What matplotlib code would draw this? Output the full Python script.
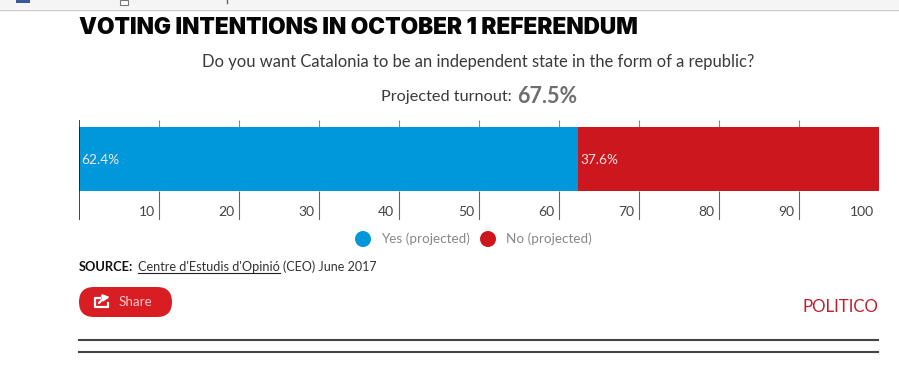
import matplotlib
matplotlib.use('Agg')
import matplotlib.pyplot as plt
from matplotlib.patches import FancyBboxPatch, Rectangle, Circle

labels = ['Yes (projected)', 'No (projected)']
values = [62.4, 37.6]
colors = ['#0098DB', '#CD171E']
ticks = [10, 20, 30, 40, 50, 60, 70, 80, 90, 100]

W, H = 899, 369
plt.rcParams['font.family'] = ['Lato', 'DejaVu Sans']

fig = plt.figure(figsize=(W / 100, H / 100), dpi=100, facecolor='white')

# full figure overlay in pixel coordinates, for the page furniture
page = fig.add_axes([0, 0, 1, 1])
page.set_xlim(0, W)
page.set_ylim(H, 0)
page.axis('off')

# chart axes: x 79-878.5 px, y 120-220 px
ax = fig.add_axes([79 / W, 1 - 220 / H, 799.5 / W, 100 / H])
ax.patch.set_alpha(0)
for s in ax.spines.values():
    s.set_visible(False)
ax.set_xticks([])
ax.set_yticks([])

left = 0
for v, c in zip(values, colors):
    ax.barh(159, v, height=64, left=left, color=c, linewidth=0, zorder=2)
    ax.text(left + 0.3, 159.5, '%.1f%%' % v, color='#F3E3E3', fontsize=9.8, va='center', ha='left', zorder=4)
    left += v
ax.set_xlim(0, 100)
ax.set_ylim(220, 120)

ax.vlines([0], 120, 220, color='#111111', linewidth=1.1, zorder=3)
ax.vlines(ticks[:-1], 120, 127, color='#888888', linewidth=0.8, zorder=1)
ax.vlines(ticks[:-1], 191, 220, color='#666666', linewidth=0.8, zorder=1)
for t in ticks:
    ax.text(t - 0.55, 212, str(t), color='#444444', fontsize=10, ha='right', va='center')

# top browser strip
page.add_patch(Rectangle((0, 0), W, 9, color='#F5F5F5', linewidth=0))
page.plot([0, W], [9.5, 9.5], color='#CCCCCC', linewidth=1)
page.add_patch(Rectangle((16, 0), 14, 3, color='#3B5998', linewidth=0))
page.add_patch(Rectangle((120, 0), 8, 5, facecolor='white', edgecolor='#777777', linewidth=0.8))
page.plot([227, 227], [0, 3], color='#666666', linewidth=1)

page.text(79, 28, 'VOTING INTENTIONS IN OCTOBER 1 REFERENDUM', fontsize=16.3, fontweight='black',
          family=['Inter', 'DejaVu Sans'], color='#050505', va='center', ha='left')
page.text(478, 62.5, 'Do you want Catalonia to be an independent state in the form of a republic?',
          fontsize=11.9, color='#3A3A3A', ha='center', va='center')
page.text(512, 97.5, 'Projected turnout:', fontsize=11.7, color='#3A3A3A', ha='right', va='center')
page.text(517, 96.5, '67.5%', fontsize=15.5, fontweight='bold', color='#6E6E6E', ha='left', va='center')

# legend
page.add_patch(Circle((363, 239), 8, color=colors[0], linewidth=0))
page.text(381, 239, labels[0], fontsize=9.7, color='#888888', ha='left', va='center')
page.add_patch(Circle((488, 239), 8, color=colors[1], linewidth=0))
page.text(506, 239, labels[1], fontsize=9.7, color='#888888', ha='left', va='center')

# source line
page.text(79, 267, 'SOURCE:', fontsize=9.3, fontweight='bold', color='#111111', ha='left', va='center')
page.text(138, 267, "Centre d'Estudis d'Opinió", fontsize=9.2, color='#333333', ha='left', va='center')
page.plot([138, 280], [272.5, 272.5], color='#222222', linewidth=0.8)
page.text(283, 267, '(CEO) June 2017', fontsize=9, color='#333333', ha='left', va='center')

# share button
page.add_patch(FancyBboxPatch((79, 287), 93, 30, boxstyle='round,pad=0,rounding_size=15',
                              facecolor='#D81E23', edgecolor='none'))
page.plot([100, 94.5, 94.5, 108, 108], [298, 298, 307, 307, 303], color='white', linewidth=1.6)
page.annotate('', xy=(110, 297), xytext=(99, 303),
              arrowprops=dict(arrowstyle='-|>', color='white', linewidth=1.6, mutation_scale=9,
                              connectionstyle='arc3,rad=-0.2', shrinkA=0, shrinkB=0))
page.text(119, 302, 'Share', fontsize=9.6, color='#F4C9CB', ha='left', va='center')

page.text(878, 306.5, 'POLITICO', fontsize=12.2, color='#C41E2E', ha='right', va='center')

page.plot([79, 878], [340, 340], color='#444444', linewidth=1.5)
page.plot([79, 878], [352, 352], color='#444444', linewidth=1.5)

fig.savefig('out.png', dpi=100)
